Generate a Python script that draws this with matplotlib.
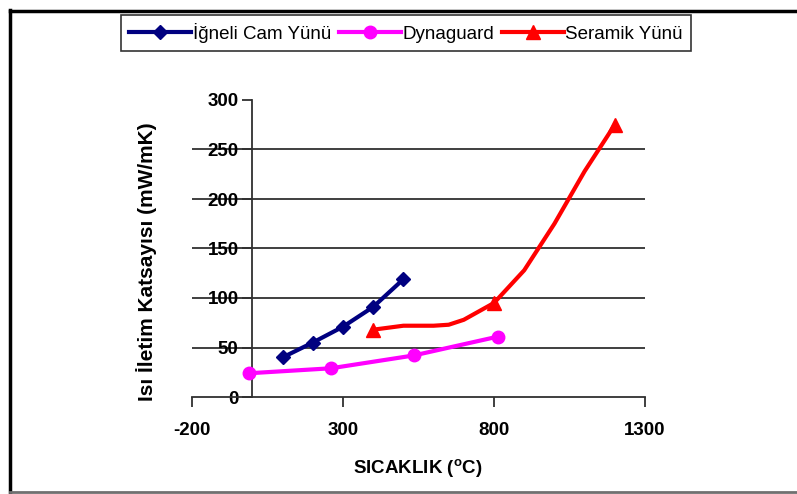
import matplotlib.pyplot as plt
from matplotlib.lines import Line2D

# data
cam_x = [100, 200, 300, 400, 500]
cam_y = [40, 55, 71, 91, 119]

dyna_x = [-10, 260, 535, 813]
dyna_y = [24, 29, 42, 61]

seramik_x = [400, 500, 600, 650, 700, 800, 900, 1000, 1100, 1200]
seramik_y = [68, 72, 72, 73, 78, 95, 128, 175, 228, 275]
seramik_marks = [0, 5, 9]

x_ticks = [-200, 300, 800, 1300]
y_ticks = [0, 50, 100, 150, 200, 250, 300]

plt.rcParams['font.family'] = ['Liberation Sans', 'DejaVu Sans']
plt.rcParams['mathtext.fontset'] = 'custom'
plt.rcParams['mathtext.rm'] = 'Liberation Sans:bold'
plt.rcParams['axes.unicode_minus'] = False

fig = plt.figure(figsize=(7.97, 4.94), dpi=100)
ax = fig.add_axes([192 / 797, 1 - 397 / 494, 453 / 797, 297 / 494])

# horizontal grid lines (Excel style, not at 0 and 300)
for yv in y_ticks[1:-1]:
    ax.axhline(yv, color='#303030', lw=1.3, zorder=1)

ax.plot(cam_x, cam_y, color='#000080', lw=3, marker='D', ms=7,
        label='İğneli Cam Yünü', zorder=3)
ax.plot(dyna_x, dyna_y, color='#FF00FF', lw=3, marker='o', ms=9,
        label='Dynaguard', zorder=3)
ax.plot(seramik_x, seramik_y, color='#FF0000', lw=3, marker='^', ms=10,
        markevery=seramik_marks, label='Seramik Yünü', zorder=3)

ax.set_xlim(-200, 1300)
ax.set_ylim(0, 300)
ax.set_xticks(x_ticks)
ax.set_yticks(y_ticks)
ax.spines['left'].set_position(('data', 0))
ax.spines['top'].set_visible(False)
ax.spines['right'].set_visible(False)
for s in ['left', 'bottom']:
    ax.spines[s].set_color('#303030')
    ax.spines[s].set_linewidth(1.3)
ax.tick_params(axis='x', direction='out', length=7, width=1.3, pad=11,
               labelsize=13.5, color='#303030')
ax.tick_params(axis='y', direction='out', length=7, width=1.3, pad=3,
               labelsize=13.5, color='#303030')
for lab in ax.get_xticklabels() + ax.get_yticklabels():
    lab.set_fontweight('bold')

fig.text(147 / 797, 1 - 262 / 494, 'Isı İletim Katsayısı (mW/mK)', rotation=90,
         ha='center', va='center', fontsize=15, fontweight='bold')
fig.text(418 / 797, 1 - 468 / 494, r'SICAKLIK ($\mathregular{^{o}}$C)',
         ha='center', va='center', fontsize=13.5, fontweight='bold')

leg = fig.legend(loc='center', bbox_to_anchor=(406 / 797, 1 - 33 / 494), ncol=3,
                 fontsize=13.5, frameon=True, fancybox=False, edgecolor='black',
                 handlelength=3.3, handletextpad=0.1, columnspacing=0.4,
                 borderpad=0.45, borderaxespad=0)
leg.get_frame().set_linewidth(1.2)

# outer chart border (left/top black, bottom grey, right runs off the image)
fig.add_artist(Line2D([10 / 797, 10 / 797], [0, 1 - 10 / 494],
                      transform=fig.transFigure, color='black', lw=2.5))
fig.add_artist(Line2D([10 / 797, 1], [1 - 11 / 494, 1 - 11 / 494],
                      transform=fig.transFigure, color='black', lw=2.5))
fig.add_artist(Line2D([10 / 797, 1], [1 - 492 / 494, 1 - 492 / 494],
                      transform=fig.transFigure, color='#707070', lw=2))

fig.savefig('out.png', dpi=100)
